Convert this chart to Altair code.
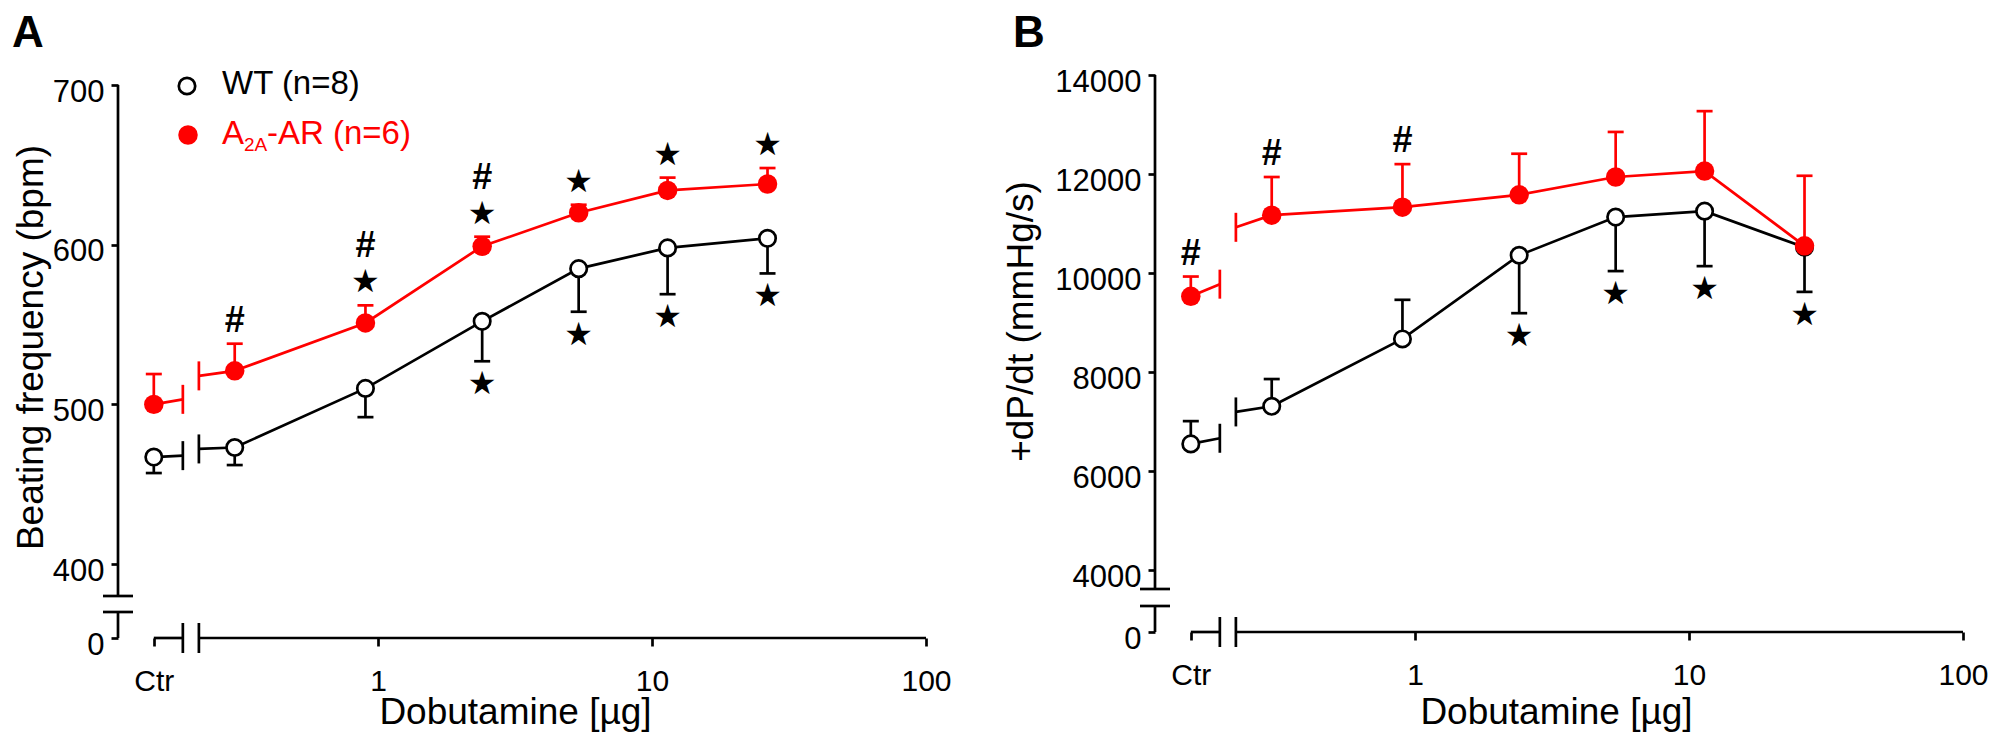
import altair as alt
import pandas as pd

FONT = "Liberation Sans"
STAR_FONT = "DejaVu Sans"
RED = "#ff0000"
BLACK = "#000000"
LW = 2.7

# ---------------- shared dose axis ----------------
doses = [0.3, 0.9, 2.4, 5.4, 11.4, 26.4]
CTR_POS = 0.152      # where the "Ctr" group sits on the dose axis
BREAK_LO = 0.194     # x-axis break (left edge)
BREAK_HI = 0.222     # x-axis break (right edge)
X_MIN = 0.1125
X_MAX = 100
x_tick_values = [CTR_POS, 1, 10, 100]
STUB_FRAC = 0.15

# ---------------- Panel A: beating frequency (bpm) ----------------
a_wt_mean = [467, 473, 510, 552, 585, 598, 604]
a_wt_sem = [10, 11, 18, 25, 27, 29, 22]
a_wt_dir = [-1, -1, -1, -1, -1, -1, -1]
a_red_mean = [500, 521, 551, 599, 620, 634, 638]
a_red_sem = [19, 17, 11, 6, 5, 8, 10]
a_red_dir = [1, 1, 1, 1, 1, 1, 1]
a_red_marks = ["", "#", "#★", "#★", "★", "★", "★"]
a_wt_marks = ["", "", "", "★", "★", "★", "★"]
a_yticks = [0, 400, 500, 600, 700]
a_ydomain = [0, 50, 380, 700]

# ---------------- Panel B: +dP/dt (mmHg/s) ----------------
b_wt_mean = [6550, 7310, 8670, 10360, 11130, 11250, 10520]
b_wt_sem = [460, 550, 790, 1170, 1090, 1110, 900]
b_wt_dir = [1, 1, 1, -1, -1, -1, -1]
b_red_mean = [9530, 11170, 11330, 11580, 11940, 12060, 10550]
b_red_sem = [400, 770, 870, 830, 910, 1210, 1415]
b_red_dir = [1, 1, 1, 1, 1, 1, 1]
b_red_marks = ["#", "#", "#", "", "", "", ""]
b_wt_marks = ["", "", "", "★", "★", "★", "★"]
b_yticks = [0, 4000, 6000, 8000, 10000, 12000, 14000]
b_ydomain = [0, 500, 3620, 14000]

W = 1846
H = 563


def series_layers(mean, sem, direction, marks, color, open_symbol, XA, YA, above):
    xs, xaxis = XA
    ys, yaxis = YA

    def X(f):
        return alt.X(f, scale=xs, axis=xaxis)

    def Y(f):
        return alt.Y(f, scale=ys, axis=yaxis)

    xvals = [CTR_POS] + doses
    end = [m + d * s for m, s, d in zip(mean, sem, direction)]
    df = pd.DataFrame({"x": xvals, "y": mean, "end": end, "mark": marks})
    layers = []
    base = alt.Chart(df)
    # connecting line (doses only)
    layers.append(base.transform_filter(alt.datum.x > BREAK_HI)
                  .mark_line(color=color, strokeWidth=LW)
                  .encode(x=X("x:Q"), y=Y("y:Q")))
    # stub segments across the axis break
    m0, m1 = mean[0], mean[1]
    yb1 = m0 + STUB_FRAC * (m1 - m0)
    yb2 = m1 - STUB_FRAC * (m1 - m0)
    stub = pd.DataFrame({"x": [CTR_POS, BREAK_HI], "x2": [BREAK_LO, doses[0]],
                         "y": [m0, yb2], "y2": [yb1, m1]})
    layers.append(alt.Chart(stub).mark_rule(color=color, strokeWidth=LW).encode(
        x=X("x:Q"), x2="x2:Q", y=Y("y:Q"), y2="y2:Q"))
    stub_caps = pd.DataFrame({"x": [BREAK_LO, BREAK_HI], "y": [yb1, yb2]})
    layers.append(alt.Chart(stub_caps).mark_tick(color=color, orient="vertical", size=29,
                                                 thickness=LW, opacity=1).encode(
        x=X("x:Q"), y=Y("y:Q")))
    # error bars
    layers.append(base.mark_rule(color=color, strokeWidth=LW).encode(
        x=X("x:Q"), y=Y("y:Q"), y2="end:Q"))
    layers.append(base.mark_tick(color=color, orient="horizontal", size=16,
                                 thickness=LW, opacity=1).encode(
        x=X("x:Q"), y=Y("end:Q")))
    # points
    if open_symbol:
        pts = base.mark_point(shape="circle", filled=True, fill="white", stroke=color,
                              strokeWidth=LW, size=269, opacity=1)
    else:
        pts = base.mark_point(shape="circle", filled=True, fill=color, strokeWidth=0,
                              size=380, opacity=1)
    layers.append(pts.encode(x=X("x:Q"), y=Y("y:Q")))
    # significance symbols
    sgn = -1 if above else 1
    star_rows = df[df["mark"].str.contains("★")]
    hash_star = df[df["mark"].str.contains("#") & df["mark"].str.contains("★")]
    hash_only = df[df["mark"].str.contains("#") & ~df["mark"].str.contains("★")]
    if len(star_rows):
        layers.append(alt.Chart(star_rows).mark_text(
            font=STAR_FONT, fontSize=32, color=BLACK, dy=sgn * 23,
            align="center", baseline="middle").encode(
            x=X("x:Q"), y=Y("end:Q"), text=alt.value("★")))
    if len(hash_star):
        layers.append(alt.Chart(hash_star).mark_text(
            font=FONT, fontSize=36, fontWeight="bold", color=BLACK, dy=sgn * 59,
            align="center", baseline="middle").encode(
            x=X("x:Q"), y=Y("end:Q"), text=alt.value("#")))
    if len(hash_only):
        layers.append(alt.Chart(hash_only).mark_text(
            font=FONT, fontSize=36, fontWeight="bold", color=BLACK, dy=sgn * 23,
            align="center", baseline="middle").encode(
            x=X("x:Q"), y=Y("end:Q"), text=alt.value("#")))
    return layers


def panel(wt, red, ydomain, yrange, yticks, xrange, ytitle, ytitle_x, ytitle_y,
          xtitle_x, xtitle_y, extra):
    xs = alt.Scale(type="log", domain=[X_MIN, X_MAX], range=xrange, nice=False)
    ys = alt.Scale(type="linear", domain=ydomain, range=yrange, nice=False, zero=False)
    yaxis = alt.Axis(values=yticks, format="d", orient="left", offset=-xrange[0],
                     domain=False, grid=False, tickSize=7, tickWidth=LW, tickColor=BLACK,
                     labelFont=FONT, labelFontSize=31, labelColor=BLACK, labelPadding=7,
                     labelOffset=7, labelBaseline="middle", labelFlush=False,
                     labelOverlap=False, title=ytitle, titleFont=FONT, titleFontSize=37,
                     titleFontWeight="normal", titleColor=BLACK, titleAngle=270,
                     titleAlign="center", titleBaseline="alphabetic",
                     titleX=ytitle_x, titleY=ytitle_y)
    xaxis = alt.Axis(values=x_tick_values,
                     labelExpr="datum.value < 0.5 ? 'Ctr' : format(datum.value, 'd')",
                     orient="bottom", offset=-(H - yrange[0]),
                     domain=False, grid=False, tickSize=8, tickWidth=LW, tickColor=BLACK,
                     labelFont=FONT, labelFontSize=30, labelColor=BLACK, labelPadding=20,
                     labelBaseline="top", labelAlign="center", labelFlush=False,
                     labelOverlap=False, title="Dobutamine [µg]", titleFont=FONT,
                     titleFontSize=37, titleFontWeight="normal", titleColor=BLACK,
                     titleAngle=0, titleAlign="center", titleBaseline="alphabetic",
                     titleX=xtitle_x, titleY=xtitle_y)
    XA = (xs, xaxis)
    YA = (ys, yaxis)
    ylo, yhi = ydomain[1], ydomain[2]
    axis_df = pd.DataFrame({"x": [X_MIN, X_MIN, CTR_POS, BREAK_HI],
                            "x2": [X_MIN, X_MIN, BREAK_LO, X_MAX],
                            "y": [0, yhi, 0, 0],
                            "y2": [ylo, ydomain[3], 0, 0]})
    carrier = alt.Chart(axis_df).mark_rule(color=BLACK, strokeWidth=LW).encode(
        x=alt.X("x:Q", scale=xs, axis=xaxis), x2="x2:Q",
        y=alt.Y("y:Q", scale=ys, axis=yaxis), y2="y2:Q")
    ycaps = pd.DataFrame({"x": [X_MIN, X_MIN], "y": [ylo, yhi]})
    ycap_layer = alt.Chart(ycaps).mark_tick(color=BLACK, orient="horizontal", size=30,
                                            thickness=LW, opacity=1).encode(
        x=alt.X("x:Q", scale=xs, axis=xaxis), y=alt.Y("y:Q", scale=ys, axis=yaxis))
    xcaps = pd.DataFrame({"x": [BREAK_LO, BREAK_HI], "y": [0, 0]})
    xcap_layer = alt.Chart(xcaps).mark_tick(color=BLACK, orient="vertical", size=30,
                                            thickness=LW, opacity=1).encode(
        x=alt.X("x:Q", scale=xs, axis=xaxis), y=alt.Y("y:Q", scale=ys, axis=yaxis))
    layers = [carrier, ycap_layer, xcap_layer]
    layers += series_layers(*wt, BLACK, True, XA, YA, False)
    layers += series_layers(*red, RED, False, XA, YA, True)
    layers += extra
    return alt.layer(*layers)


one = pd.DataFrame({"k": [0]})


def label(txt, x, y, size, color=BLACK, weight="normal", font=FONT):
    return alt.Chart(one).mark_text(font=font, fontSize=size, fontWeight=weight,
                                    color=color, align="left",
                                    baseline="alphabetic").encode(
        x=alt.value(x), y=alt.value(y), text=alt.value(txt))


legend_layers = [
    alt.Chart(one).mark_point(shape="circle", filled=True, fill="white", stroke=BLACK,
                              strokeWidth=LW, size=269, opacity=1).encode(
        x=alt.value(69), y=alt.value(11)),
    label("WT (n=8)", 104, 19, 33),
    alt.Chart(one).mark_point(shape="circle", filled=True, fill=RED, strokeWidth=0,
                              size=380, opacity=1).encode(
        x=alt.value(70), y=alt.value(60)),
    label("A", 104, 69, 33, RED),
    label("2A", 126, 76, 19, RED),
    label("-AR (n=6)", 149, 69, 33, RED),
    label("A", -106, -28, 44, BLACK, "bold"),
]
legend_b = [label("B", 895, -28, 44, BLACK, "bold")]

panel_a = panel(
    (a_wt_mean, a_wt_sem, a_wt_dir, a_wt_marks),
    (a_red_mean, a_red_sem, a_red_dir, a_red_marks),
    a_ydomain, [563, 537, 521, 10], a_yticks, [0, 808],
    "Beating frequency (bpm)", -76, 272, 397, 85, legend_layers)

panel_b = panel(
    (b_wt_mean, b_wt_sem, b_wt_dir, b_wt_marks),
    (b_red_mean, b_red_sem, b_red_dir, b_red_marks),
    b_ydomain, [557, 531, 514, 0], b_yticks, [1037, 1845],
    "+dP/dt (mmHg/s)", -123, 246, 1438, 91, legend_b)

chart = alt.layer(panel_a, panel_b).resolve_scale(
    x="independent", y="independent"
).properties(
    width=W, height=H,
    autosize=alt.AutoSizeParams(type="none"),
    padding={"left": 110, "top": 67, "right": 26, "bottom": 94},
).configure(background="white").configure_view(stroke=None)

chart.save("out.html", embed_options={"renderer": "svg", "actions": False})
